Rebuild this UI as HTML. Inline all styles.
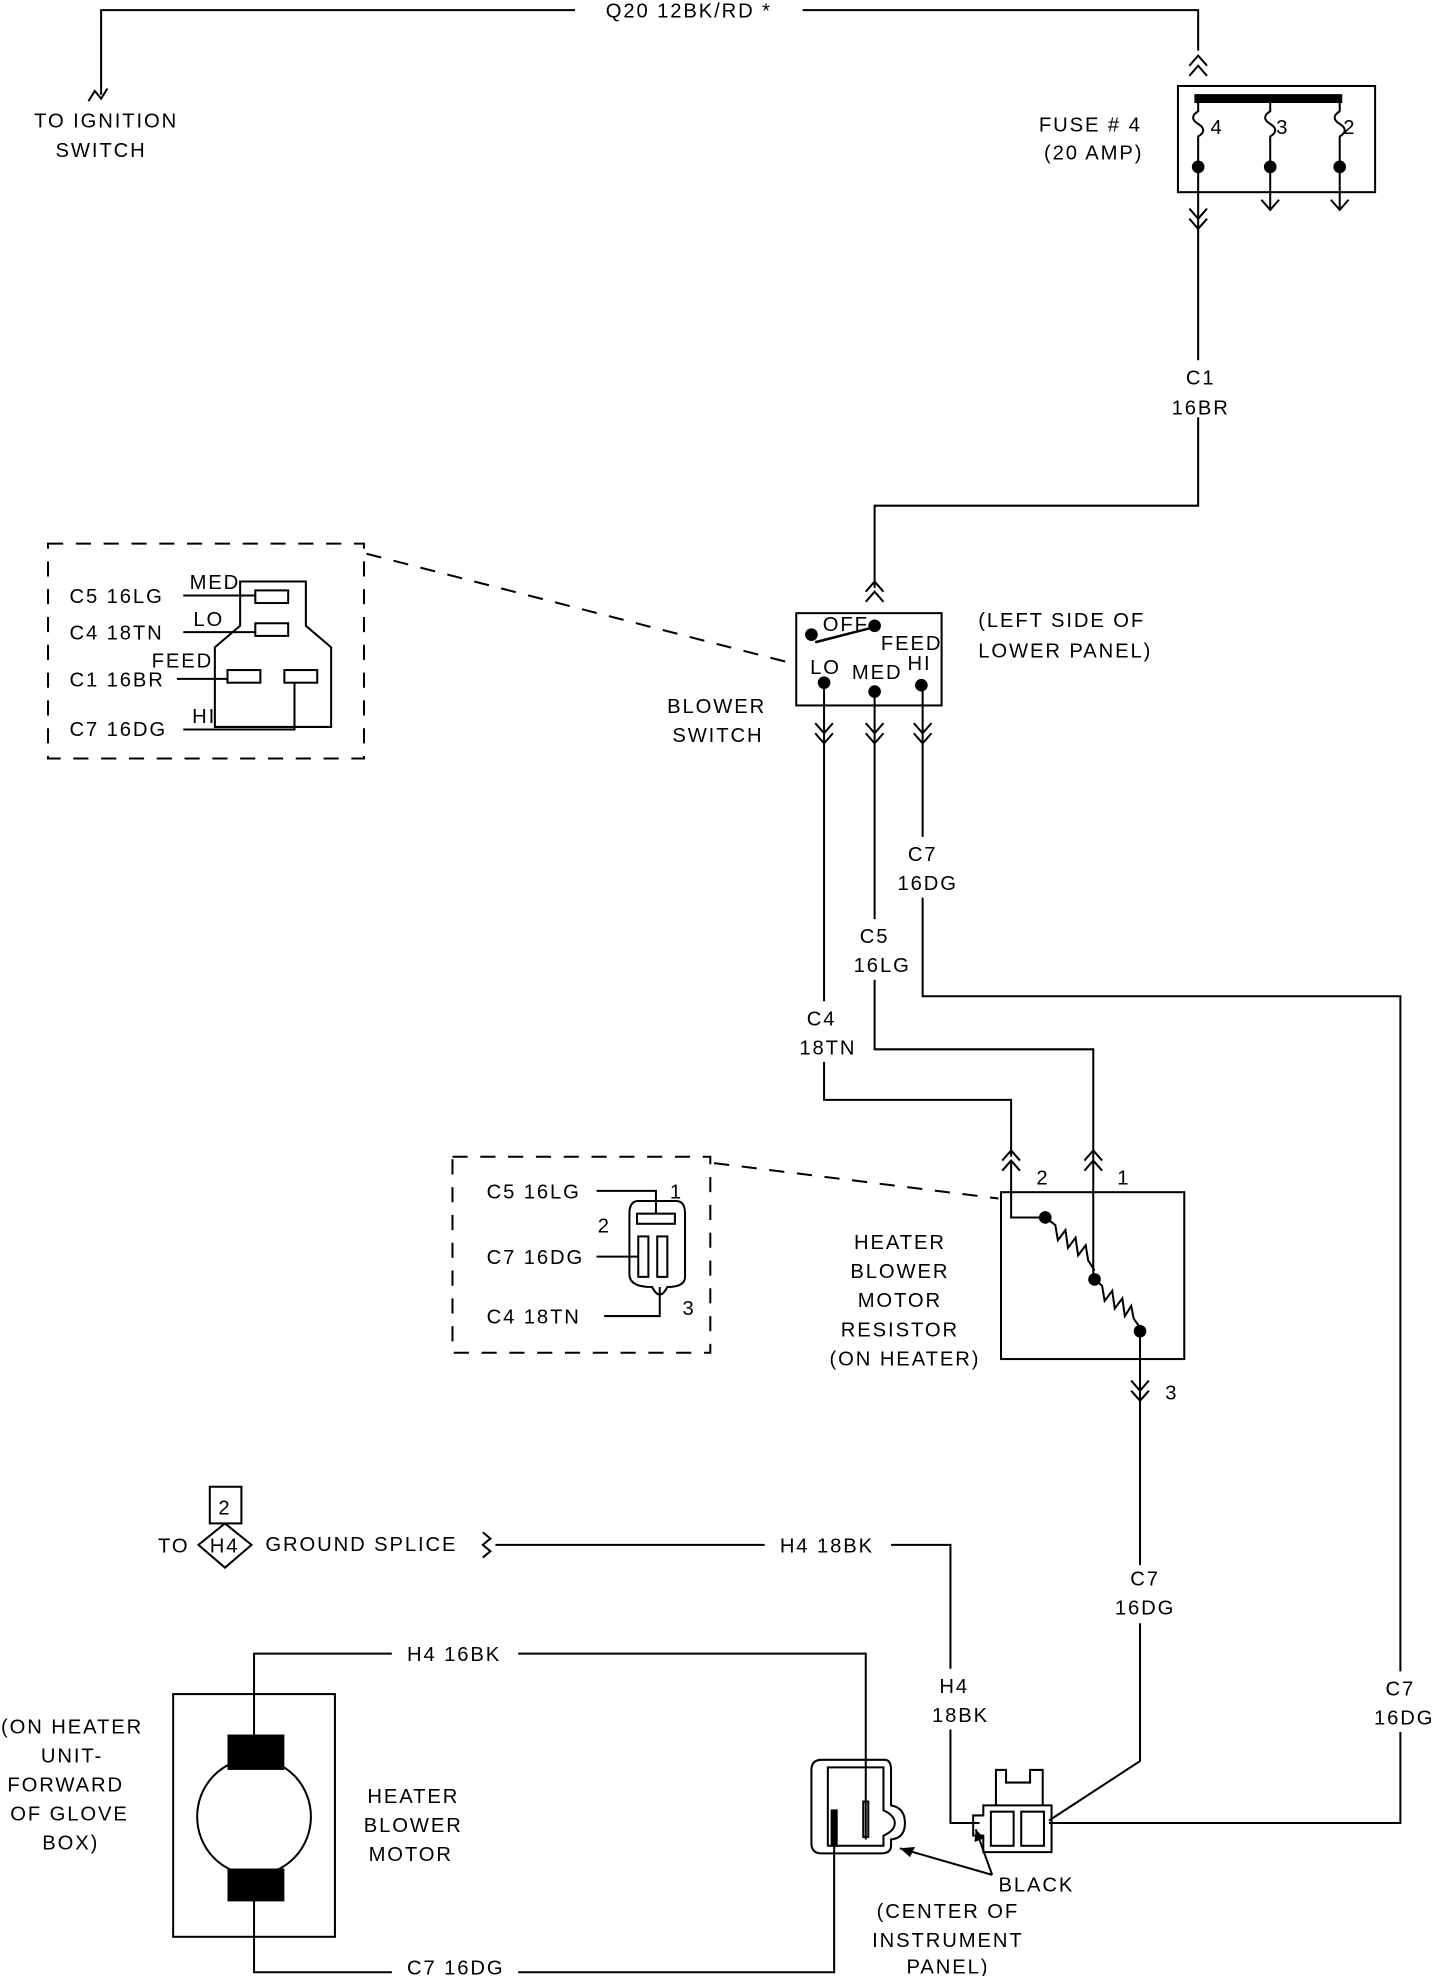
<!DOCTYPE html>
<html><head><meta charset="utf-8"><style>
html,body{margin:0;padding:0;background:#fff;width:1456px;height:1976px;overflow:hidden}
svg{display:block}
text{font-family:"Liberation Sans",sans-serif;font-size:16px;fill:#000;letter-spacing:1.5px}
</style></head><body>
<svg width="1456" height="1976" viewBox="0 0 1152 1563" preserveAspectRatio="none" xmlns="http://www.w3.org/2000/svg">
<g fill="none" stroke="#000" stroke-width="1.6">
<!-- top wire -->
<path d="M80,75 V8 H455 M635,8 H948 V40"/>
<path d="M70,80 l5,-8 l5,6 l5,-8"/>
<path d="M941,52 l7,-8 l7,8 M941,60 l7,-8 l7,8"/>
<!-- fuse box -->
<rect x="932" y="68" width="156" height="84"/>
<line x1="945" y1="78" x2="1062" y2="78" stroke-width="7"/>
<path d="M948,78 V88 q-8,5 0,10 q8,5 0,10 V152 M1005,78 V88 q-8,5 0,10 q8,5 0,10 V165 M1060,78 V88 q-8,5 0,10 q8,5 0,10 V165"/>
<path d="M998,158 l7,8 l7,-8 M1053,158 l7,8 l7,-8"/>
<path d="M941,165 l7,8 l7,-8 M941,173 l7,8 l7,-8"/>
<path d="M948,152 V285 M948,330 V400 H692 V465"/>
<path d="M685,468 l7,-8 l7,8 M685,476 l7,-8 l7,8"/>
<!-- switch -->
<rect x="630" y="485" width="115" height="73"/>
<line x1="645" y1="508" x2="688" y2="497" stroke-width="2"/>
<path d="M645,572 l7,8 l7,-8 M645,580 l7,8 l7,-8 M685,572 l7,8 l7,-8 M685,580 l7,8 l7,-8 M723,572 l7,8 l7,-8 M723,580 l7,8 l7,-8"/>
<path d="M652,540 V792 M652,840 V870 H800 V915"/>
<path d="M692,547 V727 M692,775 V830 H865 V1012"/>
<path d="M730,542 V662 M730,710 V788 H1108 V1322 M1108,1370 V1442 H830"/>
<path d="M793,918 l7,-8 l7,8 M793,926 l7,-8 l7,8 M858,918 l7,-8 l7,8 M858,926 l7,-8 l7,8"/>
<!-- resistor -->
<rect x="792" y="943" width="145" height="132"/>
<path d="M800,918 V963 H827"/>
<path d="M827,963 l8,6 l2,12 l6,-8 l2,14 l6,-8 l2,14 l6,-8 l2,12 l5,8 M866,1012 l6,5 l2,12 l6,-8 l2,14 l6,-8 l2,14 l5,-8 l2,10 l5,7"/>
<path d="M902,1053 V1238 M902,1284 V1393 L830,1440"/>
<path d="M895,1092 l7,8 l7,-8 M895,1100 l7,8 l7,-8"/>
<!-- dashed -->
<g stroke-dasharray="12,10">
<rect x="38" y="430" width="250" height="170"/>
<line x1="290" y1="438" x2="628" y2="525"/>
<rect x="358" y="915" width="204" height="155"/>
<line x1="565" y1="920" x2="790" y2="948"/>
</g>
<!-- inset 1 connector -->
<path d="M190,460 V495 L170,512 V575 H262 V512 L242,495 V460 Z"/>
<rect x="202" y="467" width="26" height="10"/><rect x="202" y="493" width="26" height="10"/>
<rect x="180" y="530" width="26" height="10"/><rect x="225" y="530" width="26" height="10"/>
<path d="M145,471 H202 M145,500 H202 M140,537 H180 M145,577 H233 V540"/>
<!-- inset 2 connector -->
<path d="M505,950 H535 Q542,950 542,960 V1010 Q542,1018 528,1018 Q522,1030 516,1018 Q498,1018 498,1008 V960 Q498,950 505,950 Z"/>
<rect x="504" y="960" width="30" height="8"/>
<rect x="505" y="978" width="8" height="32"/><rect x="520" y="978" width="8" height="32"/>
<path d="M472,942 H519 V960 M472,994 H505 M478,1041 H522 V1018"/>
<!-- ground -->
<path d="M178,1205 L199,1222 L178,1240 L157,1222 Z"/>
<rect x="166" y="1176" width="25" height="29"/>
<path d="M382,1212 l6,5 l-6,5 l6,5 l-6,5"/>
<path d="M392,1222 H605 M705,1222 H752 V1320 M752,1368 V1442 H775"/>
<!-- motor -->
<rect x="137" y="1340" width="128" height="192"/>
<ellipse cx="201" cy="1437" rx="45" ry="46"/>
<path d="M201,1372 V1308 H310 M410,1308 H685 V1455"/>
<path d="M201,1503 V1560 H310 M410,1560 H660 V1435"/>
<!-- left connector -->
<path d="M650,1392 H700 Q705,1392 705,1400 V1428 Q716,1430 716,1442 Q716,1454 705,1455 V1460 Q705,1466 697,1466 H650 Q642,1466 642,1458 V1400 Q642,1392 650,1392 Z"/>
<path d="M655,1398 H699 V1432 Q708,1436 708,1442 Q708,1448 699,1452 V1460 H655 Z"/>
<rect x="658" y="1432" width="4" height="28" fill="#000"/>
<rect x="683" y="1425" width="4" height="28"/>
<!-- right connector -->
<path d="M778,1428 H832 V1465 H778 V1452 H770 V1436 H778 Z"/>
<path d="M788,1428 V1400 H796 V1410 H815 V1400 H825 V1428"/>
<rect x="784" y="1433" width="18" height="27"/><rect x="808" y="1433" width="18" height="27"/>
<path d="M785,1483 L712,1462 M785,1483 L772,1447"/>
</g>
<g fill="#000">
<rect x="180" y="1372" width="45" height="28"/><rect x="180" y="1478" width="45" height="26"/>
<circle cx="948" cy="132" r="5"/><circle cx="1005" cy="132" r="5"/><circle cx="1060" cy="132" r="5"/>
<circle cx="642" cy="502" r="5"/><circle cx="692" cy="495" r="5"/><circle cx="652" cy="540" r="5"/><circle cx="692" cy="547" r="5"/><circle cx="729" cy="542" r="5"/>
<circle cx="827" cy="963" r="5"/><circle cx="866" cy="1012" r="5"/><circle cx="902" cy="1053" r="5"/>
<path d="M712,1462 l12,-1 l-4,8 Z M772,1447 l-1,10 l8,-3 Z"/>
</g>
<g text-anchor="middle">
<text x="545" y="14">Q20 12BK/RD *</text>
<text x="84" y="101">TO IGNITION</text><text x="80" y="124">SWITCH</text>
<text x="963" y="106" font-size="15">4</text><text x="1015" y="106" font-size="15">3</text><text x="1068" y="106" font-size="15">2</text>
<text x="950" y="304">C1</text><text x="950" y="328">16BR</text>
<text x="730" y="681">C7</text><text x="734" y="704">16DG</text>
<text x="692" y="746">C5</text><text x="698" y="769">16LG</text>
<text x="650" y="811">C4</text><text x="655" y="834">18TN</text>
<text x="567" y="564">BLOWER</text><text x="568" y="587">SWITCH</text>
<text x="712" y="988">HEATER</text><text x="712" y="1011">BLOWER</text><text x="712" y="1034">MOTOR</text><text x="712" y="1057">RESISTOR</text><text x="716" y="1080">(ON HEATER)</text>
<text x="906" y="1254">C7</text><text x="906" y="1277">16DG</text>
<text x="1108" y="1341">C7</text><text x="1111" y="1364">16DG</text>
<text x="755" y="1339">H4</text><text x="760" y="1362">18BK</text>
<text x="57" y="1371">(ON HEATER</text><text x="57" y="1394">UNIT-</text><text x="52" y="1417">FORWARD</text><text x="55" y="1440">OF GLOVE</text><text x="56" y="1463">BOX)</text>
<text x="327" y="1426">HEATER</text><text x="327" y="1449">BLOWER</text><text x="325" y="1472">MOTOR</text>
<text x="750" y="1517">(CENTER OF</text><text x="750" y="1540">INSTRUMENT</text><text x="750" y="1561">PANEL)</text>
<text x="178" y="1198">2</text>
</g>
<text x="822" y="104">FUSE # 4</text><text x="826" y="126">(20 AMP)</text>
<text x="774" y="496">(LEFT SIDE OF</text><text x="774" y="520">LOWER PANEL)</text>
<text x="651" y="499" font-size="15">OFF</text><text x="697" y="514" font-size="15">FEED</text>
<text x="641" y="533" font-size="15">LO</text><text x="674" y="537" font-size="15">MED</text><text x="718" y="530" font-size="15">HI</text>
<text x="55" y="477">C5 16LG</text><text x="55" y="506">C4 18TN</text><text x="55" y="543">C1 16BR</text><text x="55" y="582">C7 16DG</text>
<text x="150" y="466" font-size="14">MED</text><text x="153" y="495" font-size="14">LO</text><text x="120" y="528" font-size="14">FEED</text><text x="152" y="572" font-size="14">HI</text>
<text x="385" y="948">C5 16LG</text><text x="385" y="1000">C7 16DG</text><text x="385" y="1047">C4 18TN</text>
<text x="473" y="975">2</text><text x="530" y="948">1</text><text x="540" y="1040">3</text>
<text x="820" y="937">2</text><text x="884" y="937">1</text><text x="922" y="1107">3</text>
<text x="125" y="1228">TO</text><text x="166" y="1228" font-size="15">H4</text><text x="210" y="1227">GROUND SPLICE</text>
<text x="617" y="1228">H4 18BK</text>
<text x="322" y="1314">H4 16BK</text><text x="322" y="1562">C7 16DG</text>
<text x="790" y="1496">BLACK</text>
</svg>
</body></html>
